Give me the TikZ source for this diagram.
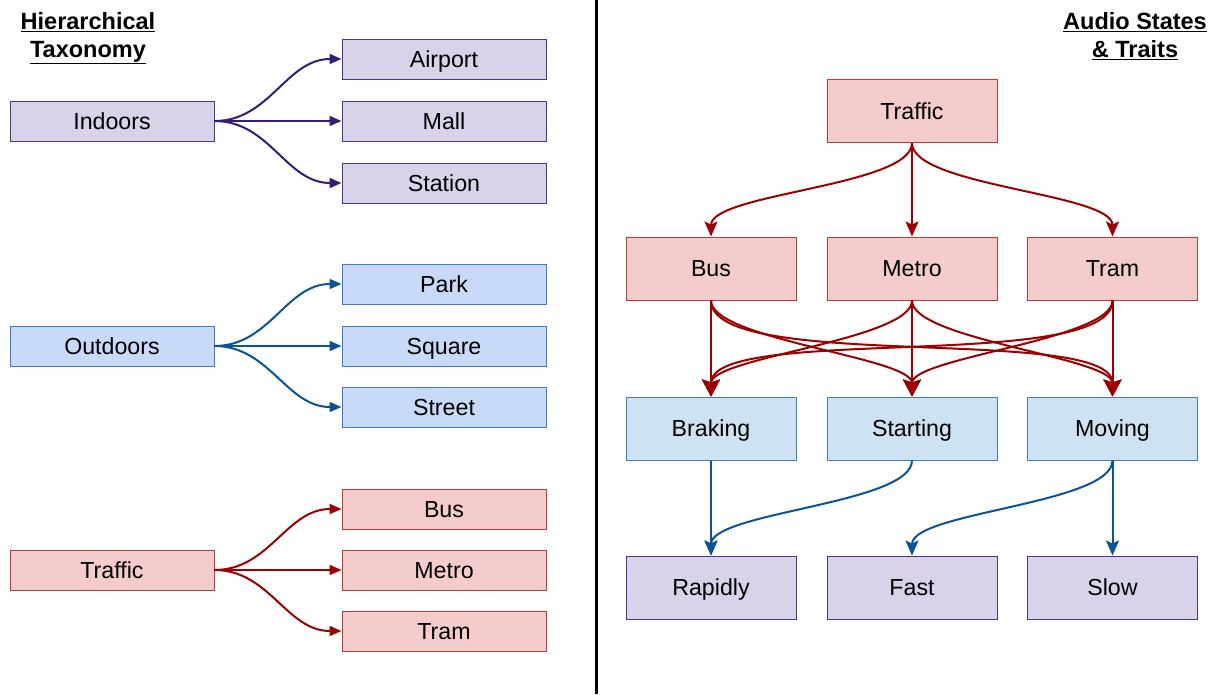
\documentclass[tikz,border=0pt]{standalone}
\usepackage{fontspec}
\setmainfont{Liberation Sans}
\usetikzlibrary{arrows.meta}
\definecolor{pfill}{HTML}{D9D2E9}
\definecolor{pline}{HTML}{4A3588}
\definecolor{parrow}{HTML}{351C75}
\definecolor{rfill}{HTML}{F4CCCC}
\definecolor{rline}{HTML}{B83A3A}
\definecolor{rarrow}{HTML}{9C0000}
\definecolor{bfill}{HTML}{C9DAF8}
\definecolor{bline}{HTML}{3C78D8}
\definecolor{barrow}{HTML}{0B5394}
\definecolor{lbfill}{HTML}{CFE2F3}
\definecolor{lbline}{HTML}{3D7DB8}
\tikzset{
  box/.style={draw, line width=1pt, inner sep=0pt, text height=16.6pt, text depth=0pt,
    font=\fontsize{23.2}{27}\selectfont},
  lbox/.style={box, minimum width=204pt, minimum height=40pt},
  rbox/.style={box, minimum width=170pt, minimum height=63pt},
  pbox/.style={fill=pfill, draw=pline},
  redbox/.style={fill=rfill, draw=rline},
  bluebox/.style={fill=bfill, draw=bline},
  lbluebox/.style={fill=lbfill, draw=lbline},
  larr/.style={line width=2pt, -{Triangle[length=12pt,width=10pt]}},
  rarr/.style={line width=2pt, -{Stealth[length=15pt,width=13pt,inset=3pt]}},
  marr/.style={line width=2pt, -{Stealth[length=17pt,width=18pt,inset=3pt]}},
  title/.style={font=\bfseries\fontsize{23.5}{28}\selectfont, align=center, inner sep=0pt},
}
\begin{document}
\begin{tikzpicture}[x=1pt,y=-1pt]
\useasboundingbox (0,0) rectangle (1216,694);
\fill[white] (0,0) rectangle (1216,694);
% divider
\coordinate (dtop) at (596.5,0);
\coordinate (dbot) at (596.5,694);
\draw[line width=3pt, black] (dtop) -- (dbot);
% titles
\node[title, anchor=north] (t1) at (88,12) {\underline{Hierarchical}\\\underline{Taxonomy}};
\node[title, anchor=north] (t2) at (1135,12) {\underline{Audio States}\\\underline{\& Traits}};
% left column
\node[lbox,pbox] (ind) at (112,121) {Indoors};
\node[lbox,pbox] (air) at (444,59) {Airport};
\node[lbox,pbox] (mall) at (444,121) {Mall};
\node[lbox,pbox] (sta) at (444,183) {Station};
\node[lbox,bluebox] (out) at (112,346) {Outdoors};
\node[lbox,bluebox] (park) at (444,284) {Park};
\node[lbox,bluebox] (sq) at (444,346) {Square};
\node[lbox,bluebox] (str) at (444,407) {Street};
\node[lbox,redbox] (tra) at (112,570) {Traffic};
\node[lbox,redbox] (lbus) at (444,509) {Bus};
\node[lbox,redbox] (lmet) at (444,570) {Metro};
\node[lbox,redbox] (ltram) at (444,631) {Tram};
\foreach \a/\b in {ind/air,ind/mall,ind/sta}
  \draw[larr,parrow] (\a.east) to[out=0,in=180] (\b.west);
\foreach \a/\b in {out/park,out/sq,out/str}
  \draw[larr,barrow] (\a.east) to[out=0,in=180] (\b.west);
\foreach \a/\b in {tra/lbus,tra/lmet,tra/ltram}
  \draw[larr,rarrow] (\a.east) to[out=0,in=180] (\b.west);
% right column
\node[rbox,redbox] (rtra) at (912,111) {Traffic};
\node[rbox,redbox] (bus) at (711,268.5) {Bus};
\node[rbox,redbox] (met) at (912,268.5) {Metro};
\node[rbox,redbox] (tram) at (1112.5,268.5) {Tram};
\node[rbox,lbluebox] (brk) at (711,428.5) {Braking};
\node[rbox,lbluebox] (stt) at (912,428.5) {Starting};
\node[rbox,lbluebox] (mov) at (1112.5,428.5) {Moving};
\node[rbox,pbox] (rap) at (711,587.5) {Rapidly};
\node[rbox,pbox] (fast) at (912,587.5) {Fast};
\node[rbox,pbox] (slow) at (1112.5,587.5) {Slow};
\foreach \b in {bus,met,tram}
  \draw[rarr,rarrow] (rtra.south) to[out=-90,in=90,looseness=0.5] (\b.north);
\foreach \a in {bus,met,tram}
  \foreach \b in {brk,stt,mov}
    \draw[marr,rarrow] (\a.south) to[out=-90,in=90,looseness=0.45] (\b.north);
\draw[rarr,barrow] (brk.south) -- (rap.north);
\draw[rarr,barrow] (stt.south) to[out=-90,in=90,looseness=0.5] (rap.north);
\draw[rarr,barrow] (mov.south) to[out=-90,in=90,looseness=0.5] (fast.north);
\draw[rarr,barrow] (mov.south) -- (slow.north);
\end{tikzpicture}
\end{document}
